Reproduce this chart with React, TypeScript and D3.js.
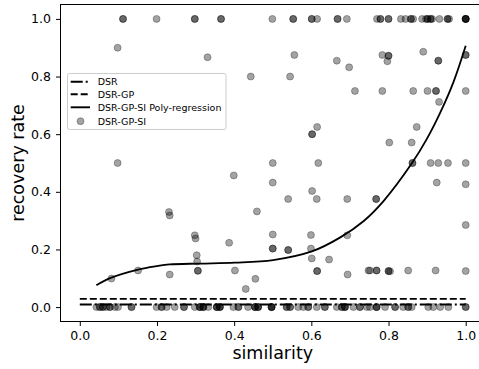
import { useEffect, useRef } from "react";
import * as d3 from "d3";

// similarity values of the points that recovered nothing (rate 0)
const ZERO_RATE_X = [
  0.043, 0.052, 0.052, 0.06, 0.06, 0.069, 0.078, 0.078, 0.091, 0.099, 0.134,
  0.134, 0.199, 0.212, 0.212, 0.225, 0.246, 0.27, 0.27, 0.298, 0.311, 0.311,
  0.311, 0.32, 0.32, 0.32, 0.333, 0.355, 0.355, 0.355, 0.363, 0.363, 0.363,
  0.398, 0.411, 0.411, 0.436, 0.454, 0.454, 0.454, 0.462, 0.462, 0.462, 0.497,
  0.497, 0.497, 0.497, 0.536, 0.536, 0.545, 0.545, 0.566, 0.579, 0.592, 0.592,
  0.614, 0.635, 0.635, 0.666, 0.679, 0.679, 0.687, 0.687, 0.687, 0.709, 0.726,
  0.726, 0.744, 0.752, 0.769, 0.769, 0.769, 0.791, 0.817, 0.817, 0.838, 0.851,
  0.851, 0.86, 0.903, 0.916, 0.934, 0.955, 1.0, 1.0,
];

// similarity values of the points that fully recovered (rate 1)
const FULL_RATE_X = [
  0.112, 0.112, 0.199, 0.298, 0.298, 0.366, 0.366, 0.499, 0.553, 0.553, 0.601,
  0.601, 0.615, 0.668, 0.668, 0.692, 0.77, 0.779, 0.779, 0.8, 0.8, 0.832,
  0.844, 0.858, 0.858, 0.864, 0.887, 0.897, 0.901, 0.901, 0.909, 0.909, 0.913,
  0.932, 0.953, 0.953, 0.957, 1.0, 1.0, 1.0, 1.0, 1.0,
];

// [similarity, recovery rate] of everything in between
const PARTIAL_POINTS: [number, number][] = [
  [0.098, 0.9], [0.331, 0.867], [0.098, 0.5], [0.443, 0.8], [0.399, 0.457],
  [0.231, 0.33], [0.233, 0.318], [0.459, 0.332], [0.556, 0.875], [0.666, 0.855],
  [0.698, 0.832], [0.545, 0.8], [0.784, 0.875], [0.8, 0.872], [0.8, 0.872],
  [0.797, 0.853], [0.89, 0.886], [0.929, 0.855], [0.929, 0.855], [1.0, 0.875],
  [1.0, 0.875], [0.713, 0.75], [0.784, 0.75], [0.864, 0.75], [0.901, 0.75],
  [0.923, 0.75], [0.923, 0.75], [1.0, 0.75], [0.931, 0.712], [0.615, 0.625],
  [0.602, 0.6], [0.602, 0.6], [0.873, 0.625], [0.802, 0.571], [0.86, 0.571],
  [0.5, 0.5], [0.618, 0.5], [0.862, 0.5], [0.862, 0.5], [0.909, 0.5],
  [0.929, 0.5], [0.954, 0.5], [1.0, 0.5], [0.5, 0.432], [0.925, 0.432],
  [1.0, 0.426], [0.602, 0.403], [0.54, 0.375], [0.614, 0.375], [0.693, 0.375],
  [0.768, 0.375], [0.768, 0.375], [1.0, 0.285], [0.298, 0.249], [0.3, 0.238],
  [0.5, 0.252], [0.599, 0.25], [0.693, 0.249], [0.387, 0.223], [0.5, 0.203],
  [0.5, 0.203], [0.54, 0.198], [0.54, 0.198], [0.599, 0.203], [0.303, 0.18],
  [0.304, 0.158], [0.601, 0.169], [0.646, 0.165], [0.306, 0.126], [0.306, 0.126],
  [0.402, 0.127], [0.151, 0.127], [0.615, 0.125], [0.615, 0.125], [0.748, 0.127],
  [0.752, 0.127], [0.769, 0.127], [0.769, 0.127], [0.8, 0.125], [0.8, 0.125],
  [0.804, 0.124], [0.851, 0.127], [0.922, 0.127], [1.0, 0.125], [0.233, 0.113],
  [0.694, 0.113], [0.082, 0.099], [0.455, 0.098], [0.43, 0.063],
];

// poly-regression curve
const REG_X = [
  0.043, 0.082, 0.151, 0.199, 0.233, 0.311, 0.402, 0.501, 0.601, 0.674, 0.735,
  0.787, 0.86, 0.899, 0.934, 0.968, 1.0,
];
const REG_Y = [
  0.076, 0.102, 0.13, 0.142, 0.148, 0.151, 0.154, 0.163, 0.193, 0.241, 0.298,
  0.368, 0.498, 0.583, 0.675, 0.78, 0.907,
];

const DSR_RATE = 0.009;
const DSR_GP_RATE = 0.0285;

const X_TICKS = [0, 0.2, 0.4, 0.6, 0.8, 1.0];
const Y_TICKS = [0, 0.2, 0.4, 0.6, 0.8, 1.0];

const LEGEND_LABELS = ["DSR", "DSR-GP", "DSR-GP-SI Poly-regression", "DSR-GP-SI"];

const FONT = "DejaVu Sans, sans-serif";

export default function App() {
  const svgRef = useRef<SVGSVGElement>(null);

  useEffect(() => {
    const width = 479;
    const height = 369;
    const left = 60.5;
    const right = 485;
    const top = 4.5;
    const bottom = 321.5;

    const svg = d3.select(svgRef.current);
    svg.selectAll("*").remove();
    svg.attr("width", width).attr("height", height);

    const x = d3.scaleLinear().domain([-0.05, 1.05]).range([left, right]);
    const y = d3.scaleLinear().domain([-0.05, 1.05]).range([bottom, top]);

    const points: [number, number][] = [
      ...ZERO_RATE_X.map((v) => [v, 0] as [number, number]),
      ...PARTIAL_POINTS,
      ...FULL_RATE_X.map((v) => [v, 1] as [number, number]),
    ];

    // baselines
    svg
      .append("line")
      .attr("x1", x(0))
      .attr("x2", x(1))
      .attr("y1", y(DSR_GP_RATE))
      .attr("y2", y(DSR_GP_RATE))
      .attr("stroke", "#000")
      .attr("stroke-width", 1.9)
      .attr("stroke-dasharray", "7,3");

    svg
      .append("line")
      .attr("x1", x(0))
      .attr("x2", x(1))
      .attr("y1", y(DSR_RATE))
      .attr("y2", y(DSR_RATE))
      .attr("stroke", "#000")
      .attr("stroke-width", 1.9)
      .attr("stroke-dasharray", "12,3,2,3");

    svg
      .append("g")
      .selectAll("circle")
      .data(points)
      .join("circle")
      .attr("cx", (d) => x(d[0]))
      .attr("cy", (d) => y(d[1]))
      .attr("r", 3.5)
      .attr("fill", "#000")
      .attr("fill-opacity", 0.36)
      .attr("stroke", "#000")
      .attr("stroke-opacity", 0.36)
      .attr("stroke-width", 0.8);

    const line = d3
      .line<number>()
      .x((d, i) => x(REG_X[i]))
      .y((d) => y(d))
      .curve(d3.curveCatmullRom);

    svg
      .append("path")
      .attr("d", line(REG_Y))
      .attr("fill", "none")
      .attr("stroke", "#000")
      .attr("stroke-width", 1.8);

    // frame
    svg
      .append("rect")
      .attr("x", left)
      .attr("y", top)
      .attr("width", right - left)
      .attr("height", bottom - top)
      .attr("fill", "none")
      .attr("stroke", "#000")
      .attr("stroke-width", 1);

    svg
      .append("g")
      .attr("transform", `translate(0,${bottom})`)
      .call(
        d3
          .axisBottom(x)
          .tickValues(X_TICKS)
          .tickFormat(d3.format(".1f"))
          .tickSize(4.5)
          .tickSizeOuter(0)
          .tickPadding(5),
      )
      .call((g) => g.select(".domain").remove())
      .call((g) =>
        g
          .selectAll("text")
          .attr("font-family", FONT)
          .attr("font-size", "12.5px")
          .attr("fill", "#000"),
      );

    svg
      .append("g")
      .attr("transform", `translate(${left},0)`)
      .call(
        d3
          .axisLeft(y)
          .tickValues(Y_TICKS)
          .tickFormat(d3.format(".1f"))
          .tickSize(4.5)
          .tickSizeOuter(0)
          .tickPadding(5),
      )
      .call((g) => g.select(".domain").remove())
      .call((g) =>
        g
          .selectAll("text")
          .attr("font-family", FONT)
          .attr("font-size", "12.5px")
          .attr("fill", "#000"),
      );

    svg
      .append("text")
      .attr("x", (left + right) / 2)
      .attr("y", 359)
      .attr("text-anchor", "middle")
      .attr("font-family", FONT)
      .attr("font-size", "17.5px")
      .text("similarity");

    svg
      .append("text")
      .attr("transform", "rotate(-90)")
      .attr("x", -(top + bottom) / 2)
      .attr("y", 24)
      .attr("text-anchor", "middle")
      .attr("font-family", FONT)
      .attr("font-size", "17.5px")
      .text("recovery rate");

    // legend
    const legend = svg.append("g");
    legend
      .append("rect")
      .attr("x", 67.5)
      .attr("y", 73.5)
      .attr("width", 158.5)
      .attr("height", 56)
      .attr("rx", 2)
      .attr("fill", "#fff")
      .attr("fill-opacity", 0.8)
      .attr("stroke", "#cccccc")
      .attr("stroke-width", 1);

    const rowY = [81.7, 94.2, 107.3, 121.2];
    const dashes = ["12,3,2,3", "7,3", null];
    dashes.forEach((dash, i) => {
      const l = legend
        .append("line")
        .attr("x1", 70.7)
        .attr("x2", 90)
        .attr("y1", rowY[i])
        .attr("y2", rowY[i])
        .attr("stroke", "#000")
        .attr("stroke-width", 1.9);
      if (dash) l.attr("stroke-dasharray", dash);
    });
    legend
      .append("circle")
      .attr("cx", 80.5)
      .attr("cy", rowY[3])
      .attr("r", 3.5)
      .attr("fill", "#000")
      .attr("fill-opacity", 0.36)
      .attr("stroke", "#000")
      .attr("stroke-opacity", 0.36)
      .attr("stroke-width", 0.8);

    LEGEND_LABELS.forEach((label, i) => {
      legend
        .append("text")
        .attr("x", 97.7)
        .attr("y", rowY[i])
        .attr("dy", "0.35em")
        .attr("font-family", FONT)
        .attr("font-size", "9.5px")
        .attr("fill", "#000")
        .text(label);
    });
  }, []);

  return (
    <svg
      ref={svgRef}
      style={{ position: "absolute", left: 0, top: 0, background: "#fff" }}
    />
  );
}
